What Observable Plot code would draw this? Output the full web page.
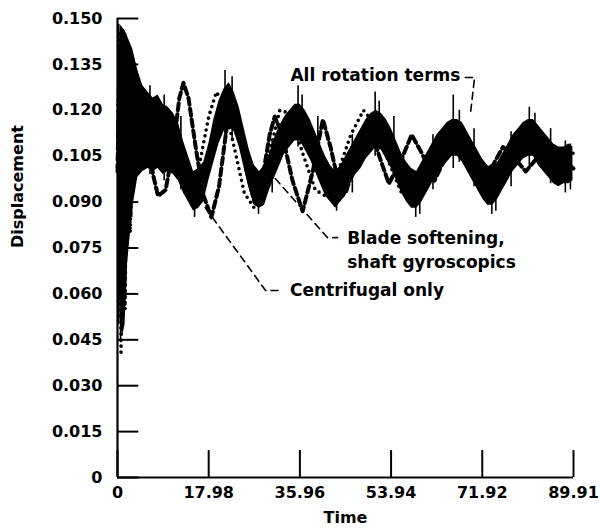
<!DOCTYPE html>
<html><head><meta charset="utf-8">
<script src="https://cdn.jsdelivr.net/npm/d3@7"></script>
<script src="https://cdn.jsdelivr.net/npm/@observablehq/plot@0.6"></script>
<style>html,body{margin:0;padding:0;background:#fff;}</style>
</head><body><div id="chart"></div>
<script>
// ---- "All rotation terms" (solid, noisy band: lower / upper envelope) ----
const allTime = [0,0.5,1,1.5,2,3,4,5,6,7,8,9,10,11,12,13,14,15,16,17,18,19,20,21,22,23,24,25,26,27,28,29,30,31,32,33,34,35,36,37,38,39,40,41,42,43,44,45,46,47,48,49,50,51,52,53,54,55,56,57,58,59,60,61,62,63,64,65,66,67,68,69,70,71,72,73,74,75,76,77,78,79,80,81,82,83,84,85,86,87,88,89,89.8];
const allLow  = [0.100,0.052,0.046,0.050,0.070,0.088,0.098,0.100,0.101,0.100,0.101,0.099,0.100,0.099,0.097,0.093,0.090,0.087,0.088,0.090,0.097,0.103,0.109,0.113,0.115,0.113,0.108,0.101,0.094,0.089,0.088,0.089,0.094,0.098,0.102,0.106,0.108,0.110,0.110,0.107,0.104,0.100,0.096,0.092,0.090,0.088,0.090,0.092,0.096,0.099,0.101,0.104,0.106,0.108,0.107,0.104,0.101,0.097,0.093,0.090,0.088,0.088,0.090,0.093,0.096,0.099,0.101,0.103,0.105,0.105,0.103,0.100,0.097,0.094,0.091,0.089,0.089,0.091,0.094,0.097,0.100,0.102,0.104,0.105,0.105,0.102,0.100,0.098,0.096,0.095,0.096,0.096,0.097];
const allHigh = [0.100,0.148,0.147,0.146,0.144,0.140,0.133,0.128,0.126,0.124,0.125,0.122,0.121,0.119,0.116,0.110,0.105,0.100,0.101,0.103,0.109,0.117,0.123,0.127,0.129,0.126,0.121,0.114,0.107,0.102,0.100,0.102,0.106,0.111,0.115,0.118,0.120,0.122,0.122,0.120,0.117,0.113,0.109,0.105,0.102,0.100,0.102,0.105,0.108,0.111,0.114,0.117,0.119,0.120,0.119,0.117,0.114,0.110,0.106,0.103,0.101,0.100,0.103,0.106,0.109,0.112,0.114,0.116,0.117,0.117,0.116,0.113,0.110,0.107,0.104,0.102,0.101,0.103,0.106,0.109,0.112,0.114,0.116,0.117,0.117,0.115,0.113,0.111,0.109,0.108,0.108,0.109,0.108];
// short excursions of the noisy trace: [time, low, high]
const allSpikes = [[0.2,0.050,0.148],[0.6,0.044,0.146],[1.0,0.050,0.142],[1.6,0.062,0.145],[2.2,0.080,0.140],[2.8,0.085,0.134],
  [6.4,0.099,0.128],[9.2,0.097,0.125],[12.5,0.094,0.118],[15.2,0.085,0.100],[21.2,0.112,0.133],[22.6,0.110,0.131],
  [27.8,0.086,0.100],[30.5,0.093,0.110],[35.6,0.108,0.128],[36.4,0.110,0.125],[39.5,0.099,0.118],[43.2,0.087,0.100],
  [46.3,0.093,0.112],[50.8,0.105,0.126],[51.6,0.107,0.123],[54.5,0.098,0.118],[58.8,0.085,0.100],[59.6,0.086,0.100],
  [62.2,0.094,0.112],[66.2,0.101,0.125],[67.4,0.103,0.120],[70.3,0.095,0.114],[73.8,0.086,0.100],[74.6,0.087,0.102],
  [77.6,0.095,0.113],[81.2,0.101,0.121],[82.3,0.103,0.119],[85.4,0.096,0.114],[88.3,0.093,0.110],[89.3,0.094,0.109]];

// ---- "Blade softening, shaft gyroscopics" (dotted) ----
const bladeTime  = [0,0.3,0.7,1.1,1.5,2.0,2.5,3.2,4.0,5.0,6.5,8,10,12,14,16,18,19.5,21,23,25,27,29.5,32,34,36.5,39,41,43.5,46,48.5,51,53.5,56,58,61,64,66.5,69,71.5,73.5,76,79,81.5,84,86.5,89.9];
const bladeValue = [0.100,0.146,0.040,0.140,0.055,0.135,0.080,0.125,0.100,0.120,0.106,0.116,0.108,0.098,0.093,0.101,0.118,0.126,0.122,0.108,0.093,0.088,0.103,0.120,0.119,0.106,0.094,0.092,0.100,0.112,0.120,0.115,0.103,0.093,0.094,0.105,0.112,0.116,0.110,0.104,0.095,0.102,0.112,0.116,0.111,0.104,0.106];

// ---- "Centrifugal only" (heavy dashed) ----
const centTime  = [0,0.4,1.2,2.0,2.6,3.5,4.5,6,7,8,9.5,11,12.2,13,14,15.5,17,18.5,20,21.5,22.5,23.8,25.5,27,28.5,30,31,32.5,34.5,36.5,38.5,40.5,42,43.5,45,47,49,51,53.5,56,58,60,62.5,64.5,67,69,71.5,74,76,78,80.5,82.5,85,87,89.9];
const centValue = [0.100,0.140,0.078,0.138,0.139,0.133,0.126,0.112,0.099,0.092,0.094,0.108,0.124,0.129,0.124,0.107,0.092,0.085,0.095,0.114,0.121,0.116,0.100,0.090,0.097,0.112,0.118,0.112,0.097,0.087,0.100,0.117,0.108,0.097,0.093,0.104,0.113,0.108,0.096,0.104,0.112,0.106,0.097,0.104,0.111,0.106,0.099,0.102,0.108,0.105,0.100,0.104,0.109,0.105,0.101];

// ---- axes ----
const xTicks = [0, 17.98, 35.96, 53.94, 71.92, 89.91];
const xTickLabels = ["0", "17.98", "35.96", "53.94", "71.92", "89.91"];
const yTicks = [0, 0.015, 0.030, 0.045, 0.060, 0.075, 0.090, 0.105, 0.120, 0.135, 0.150];
const yTickLabels = ["0", "0.015", "0.030", "0.045", "0.060", "0.075", "0.090", "0.105", "0.120", "0.135", "0.150"];

// ---- annotations (data units) ----
const leaderAll   = [[68.6,0.1307],[70.4,0.1307],[69.6,0.1190]];
const leaderBlade = [[31.1,0.0977],[41.4,0.0784],[43.4,0.0784]];
const leaderCent  = [[17.3,0.0882],[29.2,0.0611],[32.1,0.0611]];
const labelTexts  = ["All rotation terms", "Blade softening,", "shaft gyroscopics", "Centrifugal only"];
const labelPos    = [[34.1,0.1314],[45.3,0.0781],[45.3,0.0703],[34.0,0.0611]];

const band = allTime.map((t, i) => ({t, lo: allLow[i], hi: allHigh[i]}));
const blade = bladeTime.map((t, i) => ({t, v: bladeValue[i]}));
const cent = centTime.map((t, i) => ({t, v: centValue[i]}));
const labels = labelTexts.map((s, i) => ({s, t: labelPos[i][0], v: labelPos[i][1]}));

// tick lengths expressed in data units (y ticks point right, x ticks point up)
const yTickLen = 4.2, xTickLen = 0.0088;

const chart = Plot.plot({
  width: 600, height: 529,
  marginLeft: 117, marginRight: 27, marginTop: 18, marginBottom: 52,
  x: {domain: [0, 89.91], axis: null},
  y: {domain: [0, 0.150], axis: null},
  style: "font-family:'DejaVu Sans';font-weight:bold;font-size:16px;background:#fff;overflow:visible;color:#000",
  marks: [
    Plot.areaY(band, {x: "t", y1: "lo", y2: "hi", fill: "black"}),
    Plot.ruleX(allSpikes, {x: d => d[0], y1: d => d[1], y2: d => d[2], stroke: "black", strokeWidth: 1.6}),
    Plot.line(cent, {x: "t", y: "v", stroke: "black", strokeWidth: 4, strokeDasharray: "7,4"}),
    Plot.line(blade, {x: "t", y: "v", stroke: "black", strokeWidth: 3.6, strokeDasharray: "0,6", strokeLinecap: "round"}),
    // axis lines
    Plot.ruleX([0], {stroke: "black", strokeWidth: 2.2}),
    Plot.ruleY([0], {stroke: "black", strokeWidth: 2.2}),
    // inward ticks
    Plot.ruleY(yTicks, {y: d => d, x1: 0, x2: yTickLen, stroke: "black", strokeWidth: 2}),
    Plot.ruleX(xTicks, {x: d => d, y1: 0, y2: xTickLen, stroke: "black", strokeWidth: 2}),
    // tick labels
    Plot.text(yTicks, {x: 0, y: d => d, text: (d, i) => yTickLabels[i], textAnchor: "end", dx: -15, fontWeight: "bold", fontSize: 16}),
    Plot.text(xTicks, {x: d => d, y: 0, text: (d, i) => xTickLabels[i], dy: 15, fontWeight: "bold", fontSize: 16}),
    // axis titles
    Plot.text(["Displacement"], {frameAnchor: "left", rotate: -90, dx: -100, fontWeight: "bold", fontSize: 16}),
    Plot.text(["Time"], {frameAnchor: "bottom", dy: 45, fontWeight: "bold", fontSize: 16}),
    // annotations
    Plot.line(leaderAll, {x: d => d[0], y: d => d[1], stroke: "black", strokeWidth: 1.6, strokeDasharray: "7,5"}),
    Plot.line(leaderBlade, {x: d => d[0], y: d => d[1], stroke: "black", strokeWidth: 1.6, strokeDasharray: "7,5"}),
    Plot.line(leaderCent, {x: d => d[0], y: d => d[1], stroke: "black", strokeWidth: 1.6, strokeDasharray: "7,5"}),
    Plot.text(labels, {x: "t", y: "v", text: "s", textAnchor: "start", fontWeight: "bold", fontSize: 17})
  ]
});
document.getElementById("chart").appendChild(chart);
</script>
</body></html>
